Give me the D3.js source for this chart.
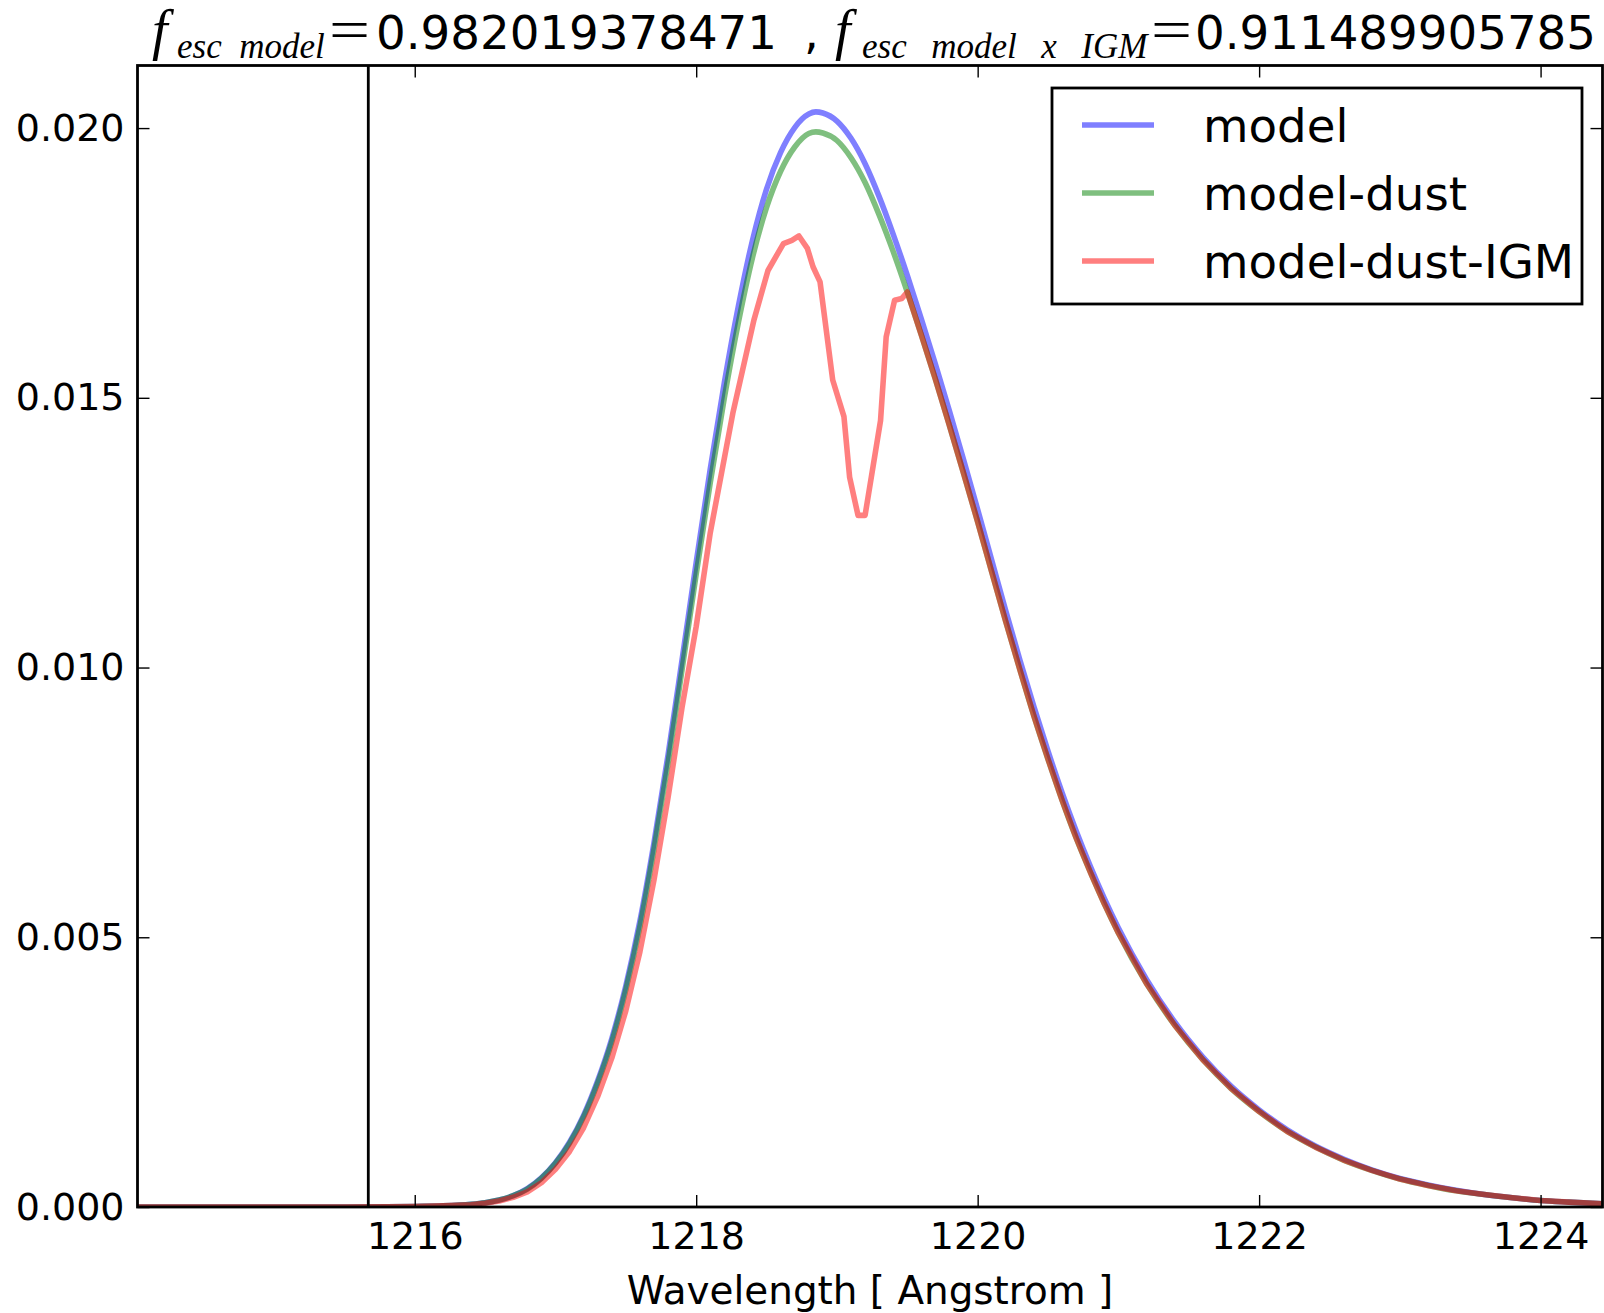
<!DOCTYPE html>
<html>
<head>
<meta charset="utf-8">
<script src="https://cdn.jsdelivr.net/npm/d3@7"></script>
<style>
  body { margin: 0; background: #fff; }
  svg { display: block; }
</style>
</head>
<body>
<div id="chart"></div>
<script>
// wavelength grid (Angstrom) for the model and model-dust spectra
const lam = [1214.03, 1215.0, 1215.5, 1215.8, 1216.0, 1216.2, 1216.4, 1216.5, 1216.6, 1216.7, 1216.8, 1216.9,
    1217.0, 1217.1, 1217.2, 1217.3, 1217.4, 1217.5, 1217.6, 1217.7, 1217.8, 1217.9,
    1218.0, 1218.1, 1218.2, 1218.3, 1218.4, 1218.5, 1218.6, 1218.7, 1218.8, 1218.85, 1218.9,
    1219.0, 1219.1, 1219.2, 1219.3, 1219.4, 1219.5, 1219.6, 1219.7, 1219.8, 1219.9,
    1220.0, 1220.1, 1220.2, 1220.3, 1220.4, 1220.5, 1220.6, 1220.7, 1220.8, 1220.9,
    1221.0, 1221.2, 1221.4, 1221.6, 1221.8,
    1222.0, 1222.2, 1222.4, 1222.6, 1222.8,
    1223.0, 1223.2, 1223.4, 1223.6, 1223.8,
    1224.0, 1224.2, 1224.44];

const fluxModel = [0, 0, 0.000001, 0.000004, 0.00001, 0.00002, 0.00005, 0.00008, 0.00013, 0.00021, 0.00034, 0.00054,
    0.00082, 0.00120, 0.00170, 0.00234, 0.00312, 0.00410, 0.00530, 0.00675, 0.00838, 0.01015,
    0.01195, 0.01368, 0.01528, 0.01670, 0.01792, 0.01887, 0.01955, 0.02001, 0.02026, 0.02030, 0.02028,
    0.02013, 0.01981, 0.01934, 0.01873, 0.01803, 0.01727, 0.01646, 0.01562, 0.01475, 0.01385,
    0.01293, 0.01199, 0.01105, 0.01014, 0.00927, 0.00845, 0.00768, 0.00697, 0.00632, 0.00572,
    0.00517, 0.00422, 0.00343, 0.00278, 0.00224,
    0.00180, 0.00143, 0.00113, 0.00089, 0.00069,
    0.00053, 0.00041, 0.00031, 0.00023, 0.00017,
    0.00012, 0.00009, 0.00006];

const fluxDust = [0, 0, 0.000001, 0.000004, 0.00001, 0.00002, 0.00005, 0.00008, 0.00013, 0.00021, 0.00033, 0.00053,
    0.00081, 0.00118, 0.00167, 0.00230, 0.00306, 0.00403, 0.00520, 0.00663, 0.00823, 0.00997,
    0.01173, 0.01343, 0.01500, 0.01640, 0.01760, 0.01853, 0.01920, 0.01965, 0.01990, 0.01993, 0.01991,
    0.01977, 0.01945, 0.01899, 0.01839, 0.01771, 0.01696, 0.01616, 0.01534, 0.01448, 0.01360,
    0.01270, 0.01177, 0.01085, 0.00996, 0.00910, 0.00830, 0.00754, 0.00684, 0.00621, 0.00562,
    0.00508, 0.00414, 0.00337, 0.00273, 0.00220,
    0.00177, 0.00140, 0.00111, 0.00087, 0.00068,
    0.00052, 0.00040, 0.00030, 0.00023, 0.00017,
    0.00012, 0.00009, 0.00006];

// IGM transmitted spectrum has its own (finer) sampling around the absorption
const lamIGM = [1214.03, 1215.0, 1215.5, 1215.8, 1216.0, 1216.2, 1216.4, 1216.5, 1216.6, 1216.7, 1216.8, 1216.9,
    1217.0, 1217.1, 1217.2, 1217.3, 1217.4, 1217.5, 1217.6, 1217.7, 1217.8, 1217.9,
    1218.0, 1218.1, 1218.26, 1218.41, 1218.51, 1218.62, 1218.68, 1218.73, 1218.79, 1218.83, 1218.88,
    1218.97, 1219.05, 1219.09, 1219.15, 1219.20, 1219.31, 1219.35, 1219.41, 1219.46,
    1219.5, 1219.6, 1219.7, 1219.8, 1219.9,
    1220.0, 1220.1, 1220.2, 1220.3, 1220.4, 1220.5, 1220.6, 1220.7, 1220.8, 1220.9,
    1221.0, 1221.2, 1221.4, 1221.6, 1221.8,
    1222.0, 1222.2, 1222.4, 1222.6, 1222.8,
    1223.0, 1223.2, 1223.4, 1223.6, 1223.8,
    1224.0, 1224.2, 1224.44];

const fluxIGM = [0, 0, 0.000001, 0.000003, 0.000008, 0.00002, 0.00004, 0.00007, 0.00011, 0.00018, 0.00028, 0.00045,
    0.00070, 0.00103, 0.00147, 0.00205, 0.00276, 0.00364, 0.00473, 0.00606, 0.00759, 0.00927,
    0.01076, 0.01250, 0.01471, 0.01644, 0.01736, 0.01786, 0.01792, 0.01800, 0.01777, 0.01743, 0.01715,
    0.01533, 0.01465, 0.01353, 0.01282, 0.01282, 0.01458, 0.01613, 0.01681, 0.01684,
    0.01696, 0.01616, 0.01534, 0.01448, 0.01360,
    0.01270, 0.01177, 0.01085, 0.00996, 0.00910, 0.00830, 0.00754, 0.00684, 0.00621, 0.00562,
    0.00508, 0.00414, 0.00337, 0.00273, 0.00220,
    0.00177, 0.00140, 0.00111, 0.00087, 0.00068,
    0.00052, 0.00040, 0.00030, 0.00023, 0.00017,
    0.00012, 0.00009, 0.00006];

const seriesNames = ["model", "model-dust", "model-dust-IGM"];
const seriesColors = ["#0000ff", "#008000", "#ff0000"];

const xTicks = [1216, 1218, 1220, 1222, 1224];
const yTicks = [0.000, 0.005, 0.010, 0.015, 0.020];
const xDomain = [1214.03, 1224.44];
const yDomain = [0, 0.02116];
const lyaRest = 1215.67;

const fescModel = "0.982019378471";
const fescModelIGM = "0.911489905785";

const W = 1604, H = 1313;
const pLeft = 137.5, pRight = 1602.5, pTop = 65.5, pBottom = 1207;
const fontMain = "DejaVu Sans";
const tickFs = 38, labelFs = 38.9, bigFs = 46.7;
const lw = 5.6;

const svg = d3.select("#chart").append("svg")
    .attr("width", W)
    .attr("height", H)
    .attr("viewBox", [0, 0, W, H]);

svg.append("rect").attr("width", W).attr("height", H).attr("fill", "#fff");

const x = d3.scaleLinear().domain(xDomain).range([pLeft, pRight]);
const y = d3.scaleLinear().domain(yDomain).range([pBottom, pTop]);

svg.append("defs").append("clipPath")
    .attr("id", "plotclip")
    .append("rect")
    .attr("x", pLeft).attr("y", pTop)
    .attr("width", pRight - pLeft).attr("height", pBottom - pTop);

const plot = svg.append("g").attr("clip-path", "url(#plotclip)");

const smooth = d3.line().x(d => x(d[0])).y(d => y(d[1])).curve(d3.curveMonotoneX);
const straight = d3.line().x(d => x(d[0])).y(d => y(d[1]));

const series = [
    {data: d3.zip(lam, fluxModel), gen: smooth},
    {data: d3.zip(lam, fluxDust), gen: smooth},
    {data: d3.zip(lamIGM, fluxIGM), gen: straight}
];

series.forEach((s, i) => {
    plot.append("path")
        .attr("d", s.gen(s.data))
        .attr("fill", "none")
        .attr("stroke", seriesColors[i])
        .attr("stroke-opacity", 0.5)
        .attr("stroke-width", lw)
        .attr("stroke-linejoin", "round");
});

// rest-frame Lya
plot.append("line")
    .attr("x1", x(lyaRest)).attr("x2", x(lyaRest))
    .attr("y1", pTop).attr("y2", pBottom)
    .attr("stroke", "#000")
    .attr("stroke-width", 2.8);

// axes, matplotlib classic style: inward ticks on all four sides
function styleAxis(g) {
    g.select(".domain").remove();
    g.selectAll(".tick line").attr("stroke", "#000").attr("stroke-width", 1.4);
    g.selectAll(".tick text").attr("fill", "#000");
    g.attr("font-family", fontMain).attr("font-size", tickFs);
}

svg.append("g")
    .attr("transform", `translate(0,${pBottom})`)
    .call(d3.axisBottom(x).tickValues(xTicks).tickFormat(d3.format("d")).tickSize(-12).tickPadding(15.5))
    .call(styleAxis);

svg.append("g")
    .attr("transform", `translate(0,${pTop})`)
    .call(d3.axisTop(x).tickValues(xTicks).tickFormat("").tickSize(-12))
    .call(styleAxis);

svg.append("g")
    .attr("transform", `translate(${pLeft},0)`)
    .call(d3.axisLeft(y).tickValues(yTicks).tickFormat(d3.format(".3f")).tickSize(-12).tickPadding(13))
    .call(styleAxis);

svg.append("g")
    .attr("transform", `translate(${pRight},0)`)
    .call(d3.axisRight(y).tickValues(yTicks).tickFormat("").tickSize(-12))
    .call(styleAxis);

svg.append("rect")
    .attr("x", pLeft).attr("y", pTop)
    .attr("width", pRight - pLeft).attr("height", pBottom - pTop)
    .attr("fill", "none")
    .attr("stroke", "#000")
    .attr("stroke-width", 2.8);

svg.append("text")
    .attr("x", (pLeft + pRight) / 2)
    .attr("y", 1304)
    .attr("text-anchor", "middle")
    .attr("font-family", fontMain)
    .attr("font-size", labelFs)
    .text("Wavelength [ Angstrom ]");

// title: mathtext pieces + plain numbers
const mathFont = "Liberation Serif";
const title = svg.append("g");
function piece(txt, px, py, fs, family, italic, sx) {
    const t = title.append("text")
        .attr("transform", `translate(${px},${py}) scale(${sx || 1},1)`)
        .attr("font-family", family)
        .attr("font-size", fs)
        .style("white-space", "pre")
        .text(txt);
    if (italic) t.attr("font-style", "italic");
    return t;
}
piece("f", 152, 49, 56, mathFont, true);
piece("esc  model", 177, 58, 35, mathFont, true);
piece("=", 329, 49, 56, mathFont, false, 1.3);
piece(fescModel, 376, 49, bigFs, fontMain, false);
piece(",", 804, 49, bigFs, fontMain, false);
piece("f", 835, 49, 56, mathFont, true);
piece("esc  model  x  IGM", 862, 58, 35, mathFont, true).attr("word-spacing", 3.5);
piece("=", 1151, 49, 56, mathFont, false, 1.3);
piece(fescModelIGM, 1195, 49, bigFs, fontMain, false);

// legend
const legend = svg.append("g");
legend.append("rect")
    .attr("x", 1052).attr("y", 88)
    .attr("width", 530).attr("height", 216)
    .attr("fill", "#fff")
    .attr("stroke", "#000")
    .attr("stroke-width", 2.8);

seriesNames.forEach((name, i) => {
    const ly = 125 + i * 68;
    legend.append("line")
        .attr("x1", 1082).attr("x2", 1154)
        .attr("y1", ly).attr("y2", ly)
        .attr("stroke", seriesColors[i])
        .attr("stroke-opacity", 0.5)
        .attr("stroke-width", lw);
    legend.append("text")
        .attr("x", 1203)
        .attr("y", ly + 17)
        .attr("font-family", fontMain)
        .attr("font-size", bigFs)
        .text(name);
});
</script>
</body>
</html>
